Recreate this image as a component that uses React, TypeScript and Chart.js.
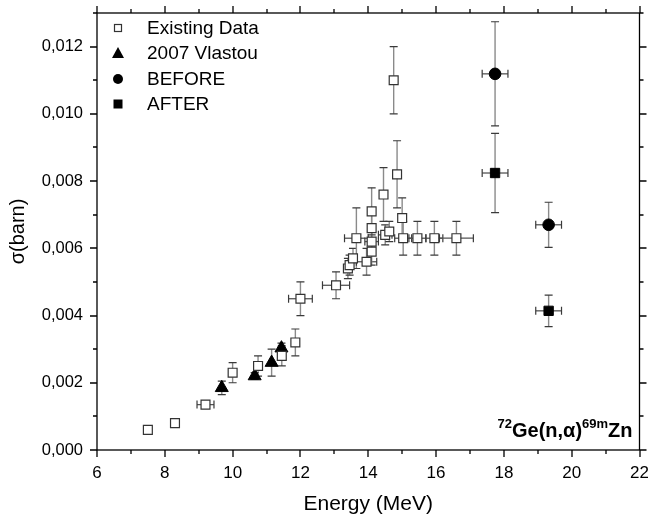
import React, { useEffect, useRef } from 'react';
import { Chart, registerables } from 'chart.js';

Chart.register(...registerables);

// ---- Data ----
const existingEnergy = [7.5, 8.3, 9.2, 10.0, 10.75, 11.45, 11.85, 12.0, 13.05, 13.4, 13.45, 13.55, 13.65, 13.95, 14.1, 14.1, 14.1, 14.1, 14.45, 14.5, 14.62, 14.75, 14.85, 15.0, 15.03, 15.45, 15.95, 16.6];
const existingSigma = [0.0006, 0.0008, 0.00135, 0.0023, 0.0025, 0.0028, 0.0032, 0.0045, 0.0049, 0.0054, 0.0055, 0.0057, 0.0063, 0.0056, 0.0059, 0.0062, 0.0066, 0.0071, 0.0076, 0.0064, 0.0065, 0.011, 0.0082, 0.0069, 0.0063, 0.0063, 0.0063, 0.0063];
const existingEnergyErr = [0.05, 0.05, 0.25, 0.1, 0.1, 0.1, 0.1, 0.35, 0.4, 0.1, 0.1, 0.1, 0.35, 0.3, 0.1, 0.2, 0.1, 0.1, 0.1, 0.2, 0.1, 0.05, 0.1, 0.1, 0.25, 0.25, 0.25, 0.5];
const existingSigmaErr = [0.00005, 0.00005, 0.0001, 0.0003, 0.0003, 0.0003, 0.0004, 0.0005, 0.0004, 0.0003, 0.0003, 0.0003, 0.0009, 0.0004, 0.0004, 0.0003, 0.0005, 0.0007, 0.0008, 0.0003, 0.0003, 0.001, 0.001, 0.0006, 0.0005, 0.0005, 0.0005, 0.0005];

const vlastouEnergy = [9.68, 10.65, 11.15, 11.44];
const vlastouSigma = [0.00185, 0.0022, 0.0026, 0.00303];
const vlastouEnergyErr = [0, 0, 0, 0];
const vlastouSigmaErr = [0.0002, 0.0001, 0.0004, 0.00015];

const beforeEnergy = [17.74, 19.32];
const beforeSigma = [0.01119, 0.0067];
const beforeEnergyErr = [0.38, 0.38];
const beforeSigmaErr = [0.00155, 0.00067];

const afterEnergy = [17.74, 19.32];
const afterSigma = [0.00824, 0.00414];
const afterEnergyErr = [0.38, 0.38];
const afterSigmaErr = [0.00118, 0.00047];

const xMajorTicks = [6, 8, 10, 12, 14, 16, 18, 20, 22];
const yMajorTicks = [0, 0.002, 0.004, 0.006, 0.008, 0.01, 0.012];

const legendLabels = ['Existing Data', '2007 Vlastou', 'BEFORE', 'AFTER'];

const FONT = '"Liberation Sans", Arial, sans-serif';

function toPoints(xs: number[], ys: number[]) {
  return xs.map((x, i) => ({ x, y: ys[i] }));
}

const errorBarPlugin = {
  id: 'errorBars',
  beforeDatasetsDraw(chart: any) {
    const ctx = chart.ctx;
    const xs = chart.scales.x;
    const ys = chart.scales.y;
    ctx.save();
    chart.data.datasets.forEach((ds: any) => {
      ds.data.forEach((p: any, i: number) => {
        const ex = ds.xErr[i];
        const ey = ds.yErr[i];
        const px = xs.getPixelForValue(p.x);
        const py = ys.getPixelForValue(p.y);
        if (ey > 0) {
          const y1 = ys.getPixelForValue(p.y + ey);
          const y2 = ys.getPixelForValue(p.y - ey);
          ctx.strokeStyle = '#8a8a8a';
          ctx.lineWidth = 1.4;
          ctx.beginPath();
          ctx.moveTo(px, y1);
          ctx.lineTo(px, y2);
          ctx.stroke();
          ctx.strokeStyle = '#3a3a3a';
          ctx.lineWidth = 1.2;
          ctx.beginPath();
          ctx.moveTo(px - 4, y1);
          ctx.lineTo(px + 4, y1);
          ctx.moveTo(px - 4, y2);
          ctx.lineTo(px + 4, y2);
          ctx.stroke();
        }
        if (ex > 0) {
          const x1 = xs.getPixelForValue(p.x - ex);
          const x2 = xs.getPixelForValue(p.x + ex);
          ctx.strokeStyle = '#555555';
          ctx.lineWidth = 1.3;
          ctx.beginPath();
          ctx.moveTo(x1, py);
          ctx.lineTo(x2, py);
          ctx.stroke();
          ctx.strokeStyle = '#3a3a3a';
          ctx.lineWidth = 1.2;
          ctx.beginPath();
          ctx.moveTo(x1, py - 4);
          ctx.lineTo(x1, py + 4);
          ctx.moveTo(x2, py - 4);
          ctx.lineTo(x2, py + 4);
          ctx.stroke();
        }
      });
    });
    ctx.restore();
  },
};

const frameLegendPlugin = {
  id: 'frameLegend',
  afterDraw(chart: any) {
    const ctx = chart.ctx;
    const xs = chart.scales.x;
    const ys = chart.scales.y;
    const { left, right, top, bottom } = chart.chartArea;
    ctx.save();
    ctx.strokeStyle = '#000';
    ctx.lineWidth = 1.3;
    ctx.strokeRect(left, top, right - left, bottom - top);
    ctx.beginPath();
    // x ticks (major + minor)
    for (let v = xs.min; v <= xs.max + 1e-9; v += 1) {
      const px = Math.round(xs.getPixelForValue(v));
      const major = xMajorTicks.includes(v);
      const len = major ? 7 : 4;
      ctx.moveTo(px, bottom);
      ctx.lineTo(px, bottom + len);
      ctx.moveTo(px, top);
      ctx.lineTo(px, top - len);
    }
    for (let k = 0; k <= 13; k++) {
      const v = k * 0.001;
      const py = Math.round(ys.getPixelForValue(v));
      const major = yMajorTicks.some((t) => Math.abs(t - v) < 1e-9);
      const len = major ? 7 : 4;
      ctx.moveTo(left, py);
      ctx.lineTo(left - len, py);
      ctx.moveTo(right, py);
      ctx.lineTo(right + len, py);
    }
    ctx.stroke();

    // Legend
    const lx = left + 21;
    const rows = [28, 53, 79, 104];
    ctx.strokeStyle = '#333';
    ctx.lineWidth = 1.2;
    // open square
    ctx.fillStyle = '#fff';
    ctx.fillRect(lx - 3.5, rows[0] - 3.5, 7, 7);
    ctx.strokeRect(lx - 3.5, rows[0] - 3.5, 7, 7);
    ctx.fillStyle = '#000';
    // triangle
    ctx.beginPath();
    ctx.moveTo(lx, rows[1] - 6);
    ctx.lineTo(lx + 6, rows[1] + 5);
    ctx.lineTo(lx - 6, rows[1] + 5);
    ctx.closePath();
    ctx.fill();
    // circle
    ctx.beginPath();
    ctx.arc(lx, rows[2], 5, 0, Math.PI * 2);
    ctx.fill();
    // filled square
    ctx.fillRect(lx - 4.5, rows[3] - 4.5, 9, 9);
    ctx.font = `19px ${FONT}`;
    ctx.textBaseline = 'middle';
    ctx.textAlign = 'left';
    legendLabels.forEach((t, i) => ctx.fillText(t, left + 50, rows[i] + 1));

    // Annotation 72Ge(n,α)69mZn
    const parts = [
      { t: '72', sup: true },
      { t: 'Ge(n,α)', sup: false },
      { t: '69m', sup: true },
      { t: 'Zn', sup: false },
    ];
    const bigFont = `bold 20px ${FONT}`;
    const smallFont = `bold 13px ${FONT}`;
    let total = 0;
    const widths = parts.map((p) => {
      ctx.font = p.sup ? smallFont : bigFont;
      const w = ctx.measureText(p.t).width;
      total += w;
      return w;
    });
    let cx = right - 7 - total;
    const base = bottom - 13;
    ctx.textBaseline = 'alphabetic';
    parts.forEach((p, i) => {
      ctx.font = p.sup ? smallFont : bigFont;
      ctx.fillText(p.t, cx, p.sup ? base - 9 : base);
      cx += widths[i];
    });
    ctx.restore();
  },
};

export default function App() {
  const ref = useRef<HTMLCanvasElement | null>(null);
  useEffect(() => {
    if (!ref.current) return;
    const chart = new Chart(ref.current, {
      type: 'scatter',
      data: {
        datasets: [
          {
            label: 'Existing Data',
            data: toPoints(existingEnergy, existingSigma),
            xErr: existingEnergyErr,
            yErr: existingSigmaErr,
            pointStyle: 'rect',
            pointRadius: 6.3,
            backgroundColor: '#ffffff',
            borderColor: '#333333',
            borderWidth: 1.2,
          } as any,
          {
            label: '2007 Vlastou',
            data: toPoints(vlastouEnergy, vlastouSigma),
            xErr: vlastouEnergyErr,
            yErr: vlastouSigmaErr,
            pointStyle: 'triangle',
            pointRadius: 7.5,
            backgroundColor: '#000',
            borderColor: '#000',
            borderWidth: 1,
          } as any,
          {
            label: 'BEFORE',
            data: toPoints(beforeEnergy, beforeSigma),
            xErr: beforeEnergyErr,
            yErr: beforeSigmaErr,
            pointStyle: 'circle',
            pointRadius: 5.8,
            backgroundColor: '#000',
            borderColor: '#000',
            borderWidth: 1,
          } as any,
          {
            label: 'AFTER',
            data: toPoints(afterEnergy, afterSigma),
            xErr: afterEnergyErr,
            yErr: afterSigmaErr,
            pointStyle: 'rect',
            pointRadius: 6.6,
            backgroundColor: '#000',
            borderColor: '#000',
            borderWidth: 1,
          } as any,
        ],
      },
      options: {
        responsive: false,
        animation: false,
        devicePixelRatio: 1,
        layout: { padding: { top: 13, right: 7, left: 0, bottom: 0 } },
        plugins: { legend: { display: false }, tooltip: { enabled: false } },
        scales: {
          x: {
            type: 'linear',
            min: 6,
            max: 22,
            grid: { display: false, drawTicks: true, tickLength: 7 },
            border: { display: false },
            ticks: {
              stepSize: 2,
              includeBounds: false,
              padding: 6,
              color: '#000',
              font: { family: FONT, size: 17 },
              maxRotation: 0,
              autoSkip: false,
            },
            title: {
              display: true,
              text: 'Energy (MeV)',
              color: '#000',
              font: { family: FONT, size: 21 },
              padding: { top: 0, bottom: 4 },
            },
            afterFit: (s: any) => {
              s.height = 71;
              s.paddingLeft = 0;
              s.paddingRight = 0;
            },
          },
          y: {
            type: 'linear',
            min: 0,
            max: 0.013,
            grid: { display: false, drawTicks: true, tickLength: 7 },
            border: { display: false },
            ticks: {
              stepSize: 0.002,
              includeBounds: false,
              padding: 7,
              color: '#000',
              font: { family: FONT, size: 16.5 },
              callback: (v: any) => Number(v).toFixed(3).replace('.', ','),
            },
            title: {
              display: true,
              text: 'σ(barn)',
              color: '#000',
              font: { family: FONT, size: 20 },
              padding: { top: 6, bottom: 0 },
            },
            afterFit: (s: any) => {
              s.width = 97;
              s.paddingTop = 0;
              s.paddingBottom = 0;
            },
          },
        },
      },
      plugins: [errorBarPlugin, frameLegendPlugin],
    });
    return () => chart.destroy();
  }, []);
  return (
    <div style={{ position: 'fixed', left: 0, top: 0, width: 648, height: 521, background: '#fff' }}>
      <canvas ref={ref} width={648} height={521} style={{ display: 'block' }} />
    </div>
  );
}
